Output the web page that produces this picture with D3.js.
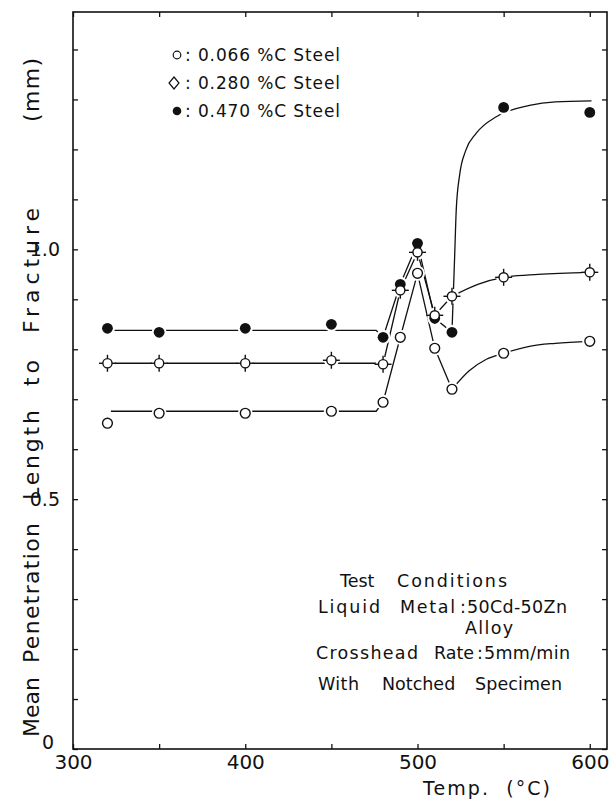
<!DOCTYPE html>
<html>
<head>
<meta charset="utf-8">
<script src="https://cdn.jsdelivr.net/npm/d3@7"></script>
<style>
  body { margin: 0; background: #fff; }
  text { font-family: "DejaVu Sans", sans-serif; fill: #111; }
</style>
</head>
<body>
<div id="chart"></div>
<script>
// temperatures (°C) of the test points
const temps = [320, 350, 400, 450, 480, 490, 500, 510, 520, 550, 600];

// mean penetration length (mm)
const steel066 = [0.652, 0.672, 0.672, 0.676, 0.694, 0.824, 0.952, 0.802, 0.720, 0.792, 0.816];
const steel280 = [0.772, 0.772, 0.772, 0.778, 0.770, 0.918, 0.994, 0.868, 0.906, 0.944, 0.954];
const steel470 = [0.842, 0.834, 0.842, 0.850, 0.824, 0.930, 1.012, 0.862, 0.834, 1.284, 1.274];

// hand drawn fit lines: straight part and smooth recovery part
const fit066a = [[322, 0.676], [476, 0.676], [480, 0.694], [490, 0.824], [500, 0.952], [510, 0.802], [520, 0.720]];
const fit066b = [[520, 0.720], [530, 0.757], [540, 0.780], [550, 0.792], [565, 0.806], [580, 0.812], [600, 0.816]];
const fit280a = [[322, 0.772], [476, 0.772], [480, 0.770], [490, 0.918], [500, 0.994], [510, 0.868], [520, 0.906]];
const fit280b = [[520, 0.906], [535, 0.930], [550, 0.944], [570, 0.950], [600, 0.954]];
const fit470a = [[322, 0.838], [476, 0.838], [480, 0.824], [490, 0.930], [500, 1.012], [510, 0.862], [520, 0.834]];
const fit470b = [[520, 0.834], [521.5, 0.980], [522.5, 1.080], [524.5, 1.150], [528, 1.198], [534, 1.232], [546, 1.266], [565, 1.288], [580, 1.295], [601, 1.297]];

const legendLabels = ["0.066 %C Steel", "0.280 %C Steel", "0.470 %C Steel"];
const xTicks = [300, 350, 400, 450, 500, 550, 600];
const yTicks = [0, 0.1, 0.2, 0.3, 0.4, 0.5, 0.6, 0.7, 0.8, 0.9, 1.0, 1.1, 1.2, 1.3, 1.4];

const width = 610, height = 807;
const margin = {top: 12, right: 3, bottom: 58, left: 73};

let svg = d3.select("#chart")
    .append("svg")
    .attr("width", width)
    .attr("height", height);

let x = d3.scaleLinear()
    .domain([300, 610])
    .range([margin.left, width - margin.right]);

let y = d3.scaleLinear()
    .domain([0, 1.475])
    .range([height - margin.bottom, margin.top]);

// frame
svg.append("rect")
    .attr("x", x(300))
    .attr("y", y(1.475))
    .attr("width", x(610) - x(300))
    .attr("height", y(0) - y(1.475))
    .attr("fill", "none")
    .attr("stroke", "#111")
    .attr("stroke-width", 1.6);

function styleAxis(g) {
    g.select(".domain").remove();
    g.selectAll(".tick line").attr("stroke", "#111").attr("stroke-width", 1.3);
    g.selectAll(".tick text").style("font-size", "20px").attr("fill", "#111");
}

svg.append("g")
    .attr("transform", `translate(0,${y(0)})`)
    .call(d3.axisBottom(x).tickValues(xTicks).tickSize(-5).tickPadding(6)
        .tickFormat(d => d % 100 === 0 ? d : ""))
    .call(styleAxis);

svg.append("g")
    .attr("transform", `translate(0,${y(1.475)})`)
    .call(d3.axisTop(x).tickValues(xTicks).tickSize(-5).tickFormat(""))
    .call(styleAxis);

let yAxisG = svg.append("g")
    .attr("transform", `translate(${x(300)},0)`)
    .call(d3.axisLeft(y).tickValues(yTicks).tickSize(-5).tickPadding(13)
        .tickFormat(d => d === 0 ? "0" : (Math.abs(d - 0.5) < 1e-6 || Math.abs(d - 1) < 1e-6) ? d3.format(".1f")(d) : ""))
    .call(styleAxis);
yAxisG.selectAll(".tick text").style("font-size", "19px");
// the zero label sits a little higher and further left
yAxisG.selectAll(".tick").filter(d => d === 0).select("text")
    .attr("x", -19).attr("y", -7);

svg.append("g")
    .attr("transform", `translate(${x(610)},0)`)
    .call(d3.axisRight(y).tickValues(yTicks).tickSize(-5).tickFormat(""))
    .call(styleAxis);

// fit lines
let straight = d3.line().x(d => x(d[0])).y(d => y(d[1]));
let smooth = d3.line().x(d => x(d[0])).y(d => y(d[1])).curve(d3.curveMonotoneX);

[fit066a, fit280a, fit470a].forEach(f => {
    svg.append("path").attr("d", straight(f))
        .attr("fill", "none").attr("stroke", "#111").attr("stroke-width", 1.3);
});
[fit066b, fit280b, fit470b].forEach(f => {
    svg.append("path").attr("d", smooth(f))
        .attr("fill", "none").attr("stroke", "#111").attr("stroke-width", 1.3);
});

// white gaps round the markers
let allPts = [];
temps.forEach((t, i) => {
    allPts.push({t: t, v: steel066[i], s: 0});
    allPts.push({t: t, v: steel280[i], s: 1});
    allPts.push({t: t, v: steel470[i], s: 2});
});

svg.append("g").selectAll("circle")
    .data(allPts)
    .enter()
    .append("circle")
    .attr("cx", d => x(d.t))
    .attr("cy", d => y(d.v))
    .attr("r", 7.5)
    .attr("fill", "#fff");

function drawMarker(g, s, cx, cy) {
    if (s === 0) {
        g.append("circle").attr("cx", cx).attr("cy", cy).attr("r", 4.9)
            .attr("fill", "#fff").attr("stroke", "#111").attr("stroke-width", 1.4);
    } else if (s === 1) {
        g.append("circle").attr("cx", cx).attr("cy", cy).attr("r", 4.6)
            .attr("fill", "#fff").attr("stroke", "#111").attr("stroke-width", 1.4);
        [[0, -1], [0, 1], [-1, 0], [1, 0]].forEach(p => {
            g.append("line")
                .attr("x1", cx + p[0] * 4.6).attr("y1", cy + p[1] * 4.6)
                .attr("x2", cx + p[0] * 8.5).attr("y2", cy + p[1] * 8.5)
                .attr("stroke", "#111").attr("stroke-width", 1.4);
        });
    } else {
        g.append("circle").attr("cx", cx).attr("cy", cy).attr("r", 5.4).attr("fill", "#111");
    }
}

// order: filled first, then diamonds, then open circles on top
let markers = svg.append("g");
[2, 1, 0].forEach(s => {
    allPts.filter(d => d.s === s).forEach(d => drawMarker(markers, s, x(d.t), y(d.v)));
});

// stretch a text to a width only when it is naturally narrower
function fitText(t, w) {
    let natural = t.node().getComputedTextLength();
    if (natural < w) t.attr("textLength", w).attr("lengthAdjust", "spacing");
    return t;
}

// legend
let legend = svg.append("g");
legendLabels.forEach((lab, i) => {
    let ly = 55 + i * 28;
    let mx = i === 1 ? 174 : 177;
    if (i === 0) {
        legend.append("circle").attr("cx", mx).attr("cy", ly).attr("r", 3.8)
            .attr("fill", "#fff").attr("stroke", "#111").attr("stroke-width", 1.2);
    } else if (i === 1) {
        legend.append("path")
            .attr("d", `M${mx},${ly - 6} L${mx + 5},${ly} L${mx},${ly + 6} L${mx - 5},${ly} Z`)
            .attr("fill", "#fff").attr("stroke", "#111").attr("stroke-width", 1.2);
    } else {
        legend.append("circle").attr("cx", mx).attr("cy", ly).attr("r", 4.3).attr("fill", "#111");
    }
    let t = legend.append("text")
        .attr("x", 185)
        .attr("y", ly + 6)
        .style("font-size", "17px")
        .style("white-space", "pre")
        .text(": " + lab);
    fitText(t, 155);
});

// axis titles
fitText(svg.append("text")
    .attr("x", 423)
    .attr("y", 795)
    .style("font-size", "19px")
    .style("white-space", "pre")
    .text("Temp.  (°C)"), 127);

const yWords = [["Mean", 737, 57], ["Penetration", 663, 140], ["Length", 500, 90], ["to", 386, 26], ["Fracture", 333, 125], ["(mm)", 122, 64]];
yWords.forEach(w => {
    fitText(svg.append("text")
        .attr("transform", `translate(39,${w[1]}) rotate(-90)`)
        .style("font-size", "22px")
        .text(w[0]), w[2]);
});

// test conditions note, word by word: [text, x, baseline, width]
const noteWords = [
    ["Test", 340, 587, 33], ["Conditions", 397, 587, 110],
    ["Liquid", 318, 613, 62], ["Metal", 400, 613, 55], [":", 460, 613, 0], ["50Cd-50Zn", 467, 613, 100],
    ["Alloy", 465, 634, 48],
    ["Crosshead", 316, 659, 102], ["Rate", 434, 659, 0], [":", 477, 659, 0], ["5mm/min", 484, 659, 86],
    ["With", 318, 690, 41], ["Notched", 382, 690, 73], ["Specimen", 475, 690, 87]
];
noteWords.forEach(n => {
    fitText(svg.append("text")
        .attr("x", n[1])
        .attr("y", n[2])
        .style("font-size", "17.5px")
        .text(n[0]), n[3]);
});
</script>
</body>
</html>
